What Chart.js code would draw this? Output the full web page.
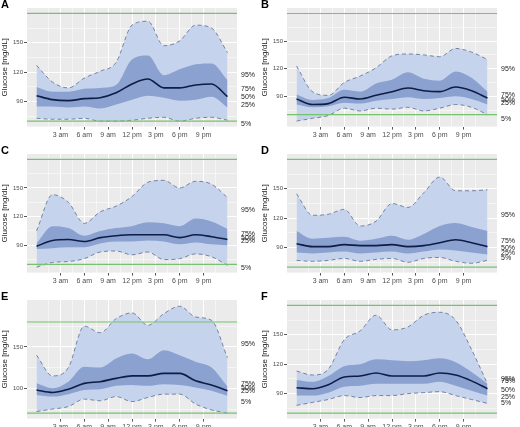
<!DOCTYPE html>
<html>
<head>
<meta charset="utf-8">
<script src="https://cdn.jsdelivr.net/npm/chart.js@4/dist/chart.umd.min.js"></script>
<style>
	body { margin: 0; background: #fff; width: 520px; height: 427px; overflow: hidden; position: relative; }
	.panel { position: absolute; width: 260px; height: 140px; }
</style>
</head>
<body>
<div class="panel" style="left:0;top:0"><canvas id="A"></canvas></div>
<div class="panel" style="left:260px;top:0"><canvas id="B"></canvas></div>
<div class="panel" style="left:0;top:146px"><canvas id="C"></canvas></div>
<div class="panel" style="left:260px;top:146px"><canvas id="D"></canvas></div>
<div class="panel" style="left:0;top:292px"><canvas id="E"></canvas></div>
<div class="panel" style="left:260px;top:292px"><canvas id="F"></canvas></div>
<script>
let hours = [0, 2, 4, 6, 8, 10, 12, 14, 16, 18, 20, 22, 24]
let hourLabels = ['12 am', '3 am', '6 am', '9 am', '12 pm', '3 pm', '6 pm', '9 pm', '12 am']
let targetRange = [70, 180]
let pctNames = ['95%', '75%', '50%', '25%', '5%']

let aP95 = [127, 110, 104, 114, 121, 130, 168, 172, 147, 152, 168, 165, 140]
let aP75 = [105, 100, 100, 103, 104, 107, 133, 137, 117, 123, 128, 129, 112]
let aP50 = [96, 92, 91, 93, 94, 99, 108, 113, 104, 104, 107, 108, 95]
let aP25 = [85, 85, 84, 85, 83, 87, 92, 96, 94, 91, 92, 95, 84]
let aP5 = [73, 72, 72, 73, 70, 70, 71, 73, 74, 70, 73, 74, 71]
let aLabelY = [117, 103, 95, 86, 67]

let bP95 = [123, 95, 91, 105, 112, 121, 134, 136, 135, 133, 142, 138, 130]
let bP75 = [92, 86, 88, 97, 95, 104, 108, 116, 109, 107, 117, 110, 95]
let bP50 = [87, 81, 82, 89, 87, 91, 95, 99, 96, 95, 100, 96, 88]
let bP25 = [81, 78, 79, 83, 82, 85, 87, 89, 87, 88, 90, 87, 81]
let bP5 = [63, 66, 69, 77, 74, 77, 76, 78, 74, 77, 81, 78, 70]
let bLabelY = [120, 91, 86, 83, 65]

let cP95 = [105, 143, 135, 113, 125, 131, 141, 156, 158, 150, 157, 154, 140]
let cP75 = [92, 110, 108, 100, 105, 108, 110, 114, 113, 110, 118, 115, 107]
let cP50 = [89, 95, 96, 94, 98, 100, 101, 101, 101, 98, 101, 99, 96]
let cP25 = [86, 87, 88, 88, 92, 94, 94, 95, 94, 91, 93, 91, 90]
let cP5 = [67, 72, 73, 76, 83, 84, 80, 83, 75, 76, 81, 78, 69]
let cLabelY = [127, 102, 98, 94, 66]

let dP95 = [145, 123, 124, 129, 112, 117, 135, 131, 146, 162, 148, 148, 149]
let dP75 = [107, 99, 100, 101, 97, 99, 102, 98, 104, 112, 115, 111, 107]
let dP50 = [94, 91, 91, 93, 92, 92, 93, 91, 92, 95, 98, 95, 91]
let dP25 = [85, 84, 85, 86, 84, 85, 86, 84, 86, 88, 87, 85, 83]
let dP5 = [77, 76, 77, 79, 76, 78, 79, 75, 79, 80, 76, 74, 77]
let dLabelY = [123, 97, 90, 84, 79]

let eP95 = [140, 115, 125, 175, 167, 184, 191, 176, 190, 199, 186, 182, 137]
let eP75 = [106, 100, 108, 126, 125, 136, 142, 135, 146, 140, 132, 125, 102]
let eP50 = [98, 95, 99, 106, 108, 112, 115, 115, 118, 118, 109, 104, 97]
let eP25 = [92, 90, 93, 98, 99, 103, 104, 103, 105, 104, 101, 97, 91]
let eP5 = [72, 75, 78, 87, 85, 90, 84, 89, 93, 93, 81, 74, 70]
let eLabelY = [153, 105, 100, 97, 84]

let fP95 = [113, 109, 115, 145, 154, 170, 155, 158, 170, 173, 165, 135, 100]
let fP75 = [104, 102, 108, 118, 120, 125, 124, 123, 124, 126, 122, 112, 100]
let fP50 = [96, 95, 99, 107, 108, 111, 108, 108, 108, 111, 109, 103, 95]
let fP25 = [88, 88, 91, 97, 98, 100, 100, 100, 100, 102, 98, 93, 88]
let fP5 = [78, 81, 84, 88, 86, 88, 88, 90, 91, 92, 88, 84, 80]
let fLabelY = [105, 103, 94, 86, 80]

let panels = [
	{ id: 'A', p: [aP95, aP75, aP50, aP25, aP5], labelY: aLabelY, min: 64.5, max: 185.5, step: 30 },
	{ id: 'B', p: [bP95, bP75, bP50, bP25, bP5], labelY: bLabelY, min: 57, max: 186, step: 30 },
	{ id: 'C', p: [cP95, cP75, cP50, cP25, cP5], labelY: cLabelY, min: 61.4, max: 185.6, step: 30 },
	{ id: 'D', p: [dP95, dP75, dP50, dP25, dP5], labelY: dLabelY, min: 64.5, max: 185.5, step: 30 },
	{ id: 'E', p: [eP95, eP75, eP50, eP25, eP5], labelY: eLabelY, min: 63.5, max: 206.5, step: 50 },
	{ id: 'F', p: [fP95, fP75, fP50, fP25, fP5], labelY: fLabelY, min: 64.5, max: 185.5, step: 30 },
]

function pts(arr) {
	return arr.map(function (v, i) { return { x: hours[i], y: v } })
}

let decorPlugin = {
	id: 'decor',
	beforeDraw: function (chart) {
		let ctx = chart.ctx
		let a = chart.chartArea
		ctx.save()
		ctx.fillStyle = '#ebebeb'
		ctx.fillRect(a.left, a.top, a.right - a.left, a.bottom - a.top)
		ctx.restore()
	},
	afterDatasetsDraw: function (chart) {
		let ctx = chart.ctx
		let a = chart.chartArea
		let y = chart.scales.y
		let cfg = chart.config.options.plugins.decor
		ctx.save()
		ctx.strokeStyle = '#76c26f'
		ctx.lineWidth = 1.2
		targetRange.forEach(function (v) {
			let py = y.getPixelForValue(v)
			ctx.beginPath()
			ctx.moveTo(a.left, py)
			ctx.lineTo(a.right, py)
			ctx.stroke()
		})
		ctx.fillStyle = '#222'
		ctx.font = '7px "Liberation Sans", Arial'
		ctx.textBaseline = 'middle'
		cfg.labelY.forEach(function (v, i) {
			ctx.fillText(pctNames[i], a.right + 4, y.getPixelForValue(v))
		})
		ctx.font = 'bold 11px "Liberation Sans", Arial'
		ctx.fillStyle = '#000'
		ctx.textBaseline = 'top'
		ctx.fillText(cfg.title, 1, -1)
		ctx.restore()
	},
}

panels.forEach(function (pn) {
	let outer = 'rgba(198, 211, 237, 1)'
	let inner = 'rgba(128, 152, 202, 0.85)'
	let datasets = [
		{ data: pts(pn.p[4]), borderColor: '#5b6c90', borderWidth: 0.8, borderDash: [4, 3], fill: false },
		{ data: pts(pn.p[3]), borderWidth: 0, fill: false },
		{ data: pts(pn.p[2]), borderColor: '#0d1d45', borderWidth: 1.6, fill: false, order: -1 },
		{ data: pts(pn.p[1]), borderWidth: 0, fill: { target: 1 }, backgroundColor: inner },
		{ data: pts(pn.p[0]), borderColor: '#5b6c90', borderWidth: 0.8, borderDash: [4, 3], fill: { target: 0 }, backgroundColor: outer },
	]
	datasets.forEach(function (d) {
		d.pointRadius = 0
		d.tension = 0.4
		d.cubicInterpolationMode = 'monotone'
		if (d.borderWidth === 0) d.borderColor = 'rgba(0,0,0,0)'
	})
	// draw fills: outer first, then inner over it
	datasets[4].order = 2
	datasets[3].order = 1
	datasets[0].order = 0
	datasets[1].order = 0
	datasets[2].order = -1

	let half = pn.step / 2
	new Chart(document.getElementById(pn.id), {
		type: 'line',
		data: { datasets: datasets },
		plugins: [decorPlugin],
		options: {
			responsive: true,
			maintainAspectRatio: false,
			animation: false,
			layout: { padding: { top: 8, right: 23, left: 0, bottom: 0 } },
			plugins: {
				legend: { display: false },
				tooltip: { enabled: false },
				filler: { drawTime: 'beforeDatasetsDraw' },
				decor: { labelY: pn.labelY, title: pn.id },
			},
			scales: {
				x: {
					type: 'linear',
					min: -1.2,
					max: 25.2,
					ticks: {
						stepSize: 1.5,
						autoSkip: false,
						maxRotation: 0,
						padding: 1,
						color: '#4d4d4d',
						font: { size: 7, family: '"Liberation Sans", Arial' },
						callback: function (v) {
							if (v >= 0 && v % 3 === 0) return hourLabels[v / 3]
							return ''
						},
					},
					grid: {
						color: function (c) {
							let v = c.tick.value
							if (v < 0 || v > 24) return 'rgba(0,0,0,0)'
							return '#ffffff'
						},
						lineWidth: function (c) { return c.tick.value % 3 === 0 ? 1 : 0.5 },
						tickColor: function (c) { return c.tick.value >= 0 && c.tick.value % 3 === 0 ? '#555' : 'rgba(0,0,0,0)' },
						tickLength: 3,
						drawOnChartArea: true,
					},
					border: { display: false },
				},
				y: {
					min: pn.min,
					max: pn.max,
					afterFit: function (s) { s.width = 27 },
					title: {
						display: true,
						text: 'Glucose [mg/dL]',
						color: '#222',
						padding: 0,
						font: { size: 8, family: '"Liberation Sans", Arial' },
					},
					ticks: {
						stepSize: half,
						autoSkip: false,
						padding: 1,
						color: '#4d4d4d',
						font: { size: 6, family: '"Liberation Sans", Arial' },
						callback: function (v) { return v % pn.step === 0 ? v : '' },
					},
					grid: {
						color: function (c) {
							return c.tick.value % half === 0 ? '#ffffff' : 'rgba(0,0,0,0)'
						},
						lineWidth: function (c) { return c.tick.value % pn.step === 0 ? 1 : 0.5 },
						tickColor: function (c) { return c.tick.value % pn.step === 0 ? '#555' : 'rgba(0,0,0,0)' },
						tickLength: 3,
					},
					border: { display: false },
				},
			},
		},
	})
})
</script>
</body>
</html>
